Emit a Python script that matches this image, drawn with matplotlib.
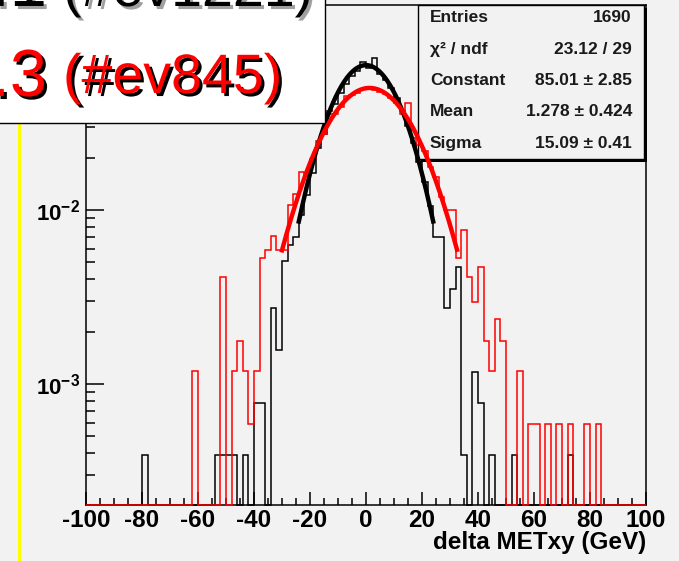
import numpy as np
import matplotlib.pyplot as plt
import matplotlib.patheffects as pe
from matplotlib.patches import Rectangle
from matplotlib.lines import Line2D
from matplotlib.ticker import MultipleLocator, LogLocator, NullFormatter

plt.rcParams['font.family'] = ['Liberation Sans', 'DejaVu Sans']
plt.rcParams['mathtext.fontset'] = 'custom'
plt.rcParams['mathtext.bf'] = 'Liberation Sans:bold'
plt.rcParams['mathtext.rm'] = 'Liberation Sans'

W, H = 679, 561
bg = '#f2f2f2'

# 100 bins of 2 GeV, -100 .. 100
edges = np.arange(-100, 101, 2)

# counts per bin, one row = 20 GeV
black_counts = np.array([
    0, 0, 0, 0, 0, 0, 0, 0, 0, 0,
    1, 0, 0, 0, 0, 0, 0, 0, 0, 0,
    0, 0, 0, 1, 1, 1, 1, 0, 1, 0,
    2, 2, 0, 7, 4, 13, 16, 18, 24, 31,
    42, 58, 70, 95, 104, 121, 136, 150, 160, 182,
    168, 190, 155, 143, 128, 112, 95, 78, 62, 48,
    37, 27, 18, 18, 7, 9, 12, 1, 0, 3,
    2, 0, 1, 0, 0, 0, 1, 0, 0, 0,
    0, 0, 0, 0, 0, 0, 1, 0, 0, 0,
    0, 0, 0, 0, 0, 0, 0, 0, 0, 0,
])
red_counts = np.array([
    0, 0, 0, 0, 0, 0, 0, 0, 0, 0,
    0, 0, 0, 0, 0, 0, 0, 0, 0, 2,
    0, 0, 0, 0, 7, 0, 2, 3, 2, 1,
    2, 9, 10, 12, 10, 10, 18, 21, 28, 27,
    33, 42, 46, 60, 60, 66, 76, 77, 80, 84,
    86, 83, 81, 78, 74, 70, 60, 70, 44, 40,
    37, 30, 26, 20, 17, 17, 9, 13, 7, 5,
    8, 3, 2, 4, 3, 0, 0, 2, 0, 1,
    1, 0, 1, 0, 1, 0, 1, 0, 0, 1,
    0, 1, 0, 0, 0, 0, 0, 0, 0, 0,
])
red_entries = 1690

# gaussian fits (red one from the stats box)
red_const, red_mean, red_sigma = 85.01, 1.278, 15.09
red_range = (-30, 32.5)
black_const, black_mean, black_sigma = 0.068, 0.0, 11.8   # already normalised
black_range = (-24, 24)

stat_names = ['Entries', 'χ² / ndf', 'Constant', 'Mean', 'Sigma']
stat_values = ['1690', '23.12 / 29', '85.01 ± 2.85', '1.278 ± 0.424', '15.09 ± 0.41']

ymin, ymax = 2.02e-4, 0.1507


def gaus(x, c, m, s):
    return c * np.exp(-0.5 * ((x - m) / s) ** 2)


def px_rect(x, y, w, h, **kw):
    # rectangle given in image pixels (origin top left)
    return Rectangle((x / W, 1 - (y + h) / H), w / W, h / H,
                     transform=fig.transFigure, **kw)


black_frac = black_counts / black_counts.sum()
red_frac = red_counts / red_entries

fig = plt.figure(figsize=(W / 100, H / 100), dpi=100, facecolor=bg)
ax = fig.add_axes([86 / W, 1 - 505 / H, 560 / W, 500 / H], facecolor='none')

ax.stairs(np.maximum(black_frac, ymin), edges, baseline=None, color='black', lw=1.1,
          zorder=3, clip_on=False)
ax.stairs(np.maximum(red_frac, ymin), edges, baseline=None, color='red', lw=1.1,
          zorder=3.1, clip_on=False)

xb = np.linspace(*black_range, 200)
ax.plot(xb, gaus(xb, black_const, black_mean, black_sigma), color='black', lw=3.2, zorder=4)
xr = np.linspace(*red_range, 200)
ax.plot(xr, gaus(xr, red_const / red_entries, red_mean, red_sigma), color='red', lw=3.2, zorder=5)

ax.set_xlim(-100, 100)
ax.set_yscale('log')
ax.set_ylim(ymin, ymax)

xticks = np.arange(-100, 101, 20)
ax.set_xticks(xticks, labels=[str(v) for v in xticks], fontsize=17.5, fontweight='bold')
ax.xaxis.set_minor_locator(MultipleLocator(5))
ax.set_yticks([1e-3, 1e-2, 1e-1],
              labels=[r'$\mathbf{10^{-3}}$', r'$\mathbf{10^{-2}}$', r'$\mathbf{10^{-1}}$'],
              fontsize=16)
ax.yaxis.set_minor_locator(LogLocator(base=10, subs=np.arange(2, 10)))
ax.yaxis.set_minor_formatter(NullFormatter())

ax.tick_params(which='both', direction='in', top=False, right=False, width=1.1)
ax.tick_params(axis='x', which='major', length=9.5, pad=3)
ax.tick_params(axis='x', which='minor', length=5)
ax.tick_params(axis='y', which='major', length=13, pad=4)
ax.tick_params(axis='y', which='minor', length=6.5)
for sp in ax.spines.values():
    sp.set_linewidth(1.1)

fig.text(646 / W, 1 - 543 / H, 'delta METxy (GeV)', ha='right', va='center',
         fontsize=17.5, fontweight='bold')

# stats box
fig.add_artist(px_rect(421, 8, 226, 154, facecolor='black', edgecolor='none', zorder=-2))
fig.add_artist(px_rect(418, 5, 226, 154, facecolor=bg, edgecolor='black', lw=1, zorder=-1))
for i, (name, val) in enumerate(zip(stat_names, stat_values)):
    yy = 1 - (18 + i * 31.3) / H
    fig.text(430 / W, yy, name, ha='left', va='center', fontsize=12.5,
             fontweight='bold', color='#1a1a1a', zorder=-1)
    fig.text(632 / W, yy, val, ha='right', va='center', fontsize=12.5,
             fontweight='bold', color='#1a1a1a', zorder=-1)

# slide overlay: yellow bar and white label box
fig.add_artist(Line2D([19 / W, 19 / W], [1 - 123 / H, 0], color='#ffff00', lw=2.2,
                      transform=fig.transFigure, zorder=9))
fig.add_artist(px_rect(-5, -5, 330, 128, facecolor='white', edgecolor='black', lw=1, zorder=10))

grey_shadow = [pe.withSimplePatchShadow(offset=(2.2, -2.2), shadow_rgbFace='#a0a0a0', alpha=1)]
black_shadow = [pe.withSimplePatchShadow(offset=(2.2, -2.2), shadow_rgbFace='black', alpha=1)]

fig.text(47 / W, 1 - 6 / H, '.1', ha='right', va='baseline', fontsize=48,
         color='black', zorder=11, path_effects=grey_shadow)
fig.text(63 / W, 1 - 6 / H, '(#ev1221)', ha='left', va='baseline', fontsize=40,
         color='black', zorder=11, path_effects=grey_shadow)
fig.text(47 / W, 1 - 96 / H, '.3', ha='right', va='baseline', fontsize=48,
         color='red', zorder=11, path_effects=black_shadow)
fig.text(63 / W, 1 - 93 / H, '(#ev845)', ha='left', va='baseline', fontsize=40,
         color='red', zorder=11, path_effects=black_shadow)

fig.savefig('out.png', dpi=100, facecolor=bg)
